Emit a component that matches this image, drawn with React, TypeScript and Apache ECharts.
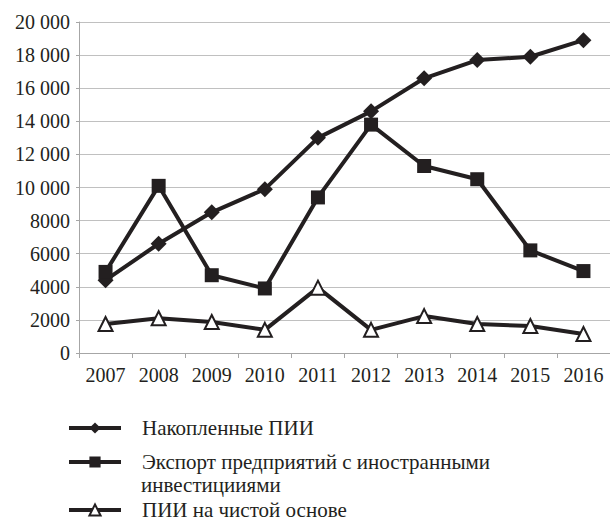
import React, { useEffect, useRef } from "react";
import * as echarts from "echarts";

const years = ["2007", "2008", "2009", "2010", "2011", "2012", "2013", "2014", "2015", "2016"];
const accumulated = [4400, 6600, 8500, 9900, 13000, 14600, 16600, 17700, 17900, 18900];
const exportFdi = [4900, 10100, 4700, 3900, 9400, 13800, 11300, 10500, 6200, 4950];
const netFdi = [1750, 2100, 1870, 1400, 3950, 1400, 2230, 1750, 1630, 1150];
const seriesNames = [
  "Накопленные ПИИ",
  "Экспорт предприятий с иностранными инвестицииями",
  "ПИИ на чистой основе",
];
const exportLegendLines = ["Экспорт предприятий с иностранными", "инвестицииями"];

const INK = "#231f20";
const FONT = "'Liberation Serif', 'Times New Roman', serif";

export default function App() {
  const ref = useRef<HTMLDivElement>(null);
  useEffect(() => {
    document.body.style.margin = "0";
    const chart = echarts.init(ref.current!, null, { renderer: "svg" });
    const legendBase = {
      orient: "horizontal" as const,
      left: 67,
      padding: 0,
      itemWidth: 52,
      itemHeight: 14,
      selectedMode: false,
      lineStyle: { width: 4, color: INK },
      textStyle: {
        fontFamily: FONT,
        fontSize: 21,
        color: INK,
        lineHeight: 22,
        padding: [0, 0, 0, 16],
      },
    };
    chart.setOption({
      animation: false,
      backgroundColor: "#ffffff",
      grid: { left: 79, right: 0, top: 22, bottom: 169, containLabel: false },
      xAxis: {
        type: "category",
        data: years,
        boundaryGap: true,
        axisLine: { show: true, lineStyle: { color: "#a6a6a6", width: 1 } },
        axisTick: { show: true, length: 5, alignWithLabel: false, lineStyle: { color: "#a6a6a6" } },
        axisLabel: { fontFamily: FONT, fontSize: 20, color: INK, margin: 12 },
        splitLine: { show: false },
      },
      yAxis: {
        type: "value",
        min: 0,
        max: 20000,
        interval: 2000,
        axisLine: { show: true, lineStyle: { color: "#a6a6a6", width: 1 } },
        axisTick: { show: true, length: 3, lineStyle: { color: "#a6a6a6" } },
        axisLabel: {
          fontFamily: FONT,
          fontSize: 20,
          color: INK,
          margin: 9,
          formatter: (v: number) =>
            v >= 10000 ? String(v).replace(/\B(?=(\d{3})+(?!\d))/g, " ") : String(v),
        },
        splitLine: { show: true, lineStyle: { color: "#c0c0c0", width: 1 } },
      },
      legend: [
        { ...legendBase, top: 417, data: [seriesNames[0]] },
        {
          ...legendBase,
          top: 451,
          data: [seriesNames[1]],
          formatter: () => exportLegendLines[0],
        },
        { ...legendBase, top: 499, data: [seriesNames[2]] },
      ],
      graphic: [
        {
          type: "text",
          x: 141,
          y: 485,
          style: {
            text: exportLegendLines[1],
            font: `21px ${FONT}`,
            fill: INK,
            verticalAlign: "middle",
          },
        },
      ],
      series: [
        {
          name: seriesNames[0],
          type: "line",
          data: accumulated,
          symbol: "diamond",
          symbolSize: 16,
          lineStyle: { color: INK, width: 4 },
          itemStyle: { color: INK, borderColor: INK, borderWidth: 0 },
          z: 2,
        },
        {
          name: seriesNames[1],
          type: "line",
          data: exportFdi,
          symbol: "rect",
          symbolSize: 14,
          lineStyle: { color: INK, width: 4 },
          itemStyle: { color: INK, borderColor: INK, borderWidth: 0 },
          z: 3,
        },
        {
          name: seriesNames[2],
          type: "line",
          data: netFdi,
          symbol: "triangle",
          symbolSize: 14,
          lineStyle: { color: INK, width: 4 },
          itemStyle: { color: "#ffffff", borderColor: INK, borderWidth: 2 },
          z: 4,
        },
      ],
    });
    return () => chart.dispose();
  }, []);
  return <div ref={ref} style={{ width: 610, height: 522 }} />;
}
